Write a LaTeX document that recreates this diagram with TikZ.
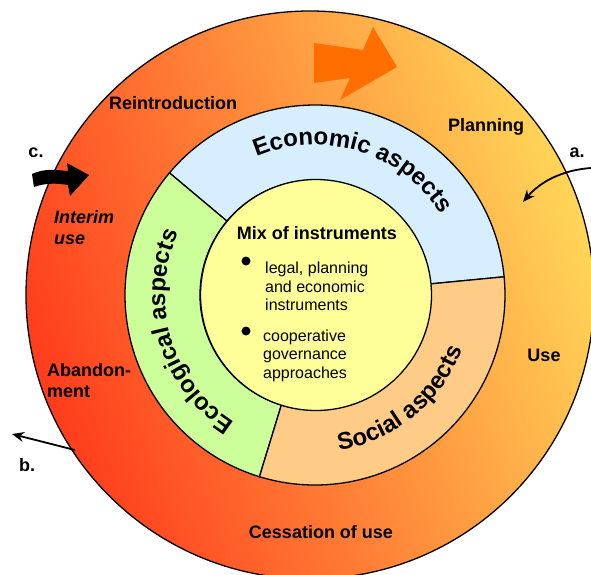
\documentclass[tikz,border=0pt]{standalone}
\usepackage{fontspec}
\setmainfont{Liberation Sans}
\usetikzlibrary{arrows.meta,decorations.text}
\definecolor{flame}{RGB}{255, 60, 28}
\definecolor{tangerine}{RGB}{255, 150, 60}
\definecolor{sunflower}{RGB}{255, 214, 88}
\definecolor{sky}{RGB}{214, 238, 253}
\definecolor{meadow}{RGB}{204, 255, 153}
\definecolor{apricot}{RGB}{255, 204, 136}
\definecolor{lemon}{RGB}{255, 255, 153}
\definecolor{carrot}{RGB}{255, 110, 0}
\newcommand\aspectfont{\fontsize{24}{24}\selectfont\bfseries}

\begin{document}
\begin{tikzpicture}[x=1pt, y=1pt,
    rim/.style={line width=1.3pt},
    lbl/.style={font=\fontsize{18}{21}\selectfont\bfseries, inner sep=0pt},
    body/.style={font=\fontsize{16}{18.5}\selectfont, align=left, anchor=west, inner sep=0pt},
    bulletdot/.style={circle, fill=black, minimum size=9pt, inner sep=0pt},
    pointer/.style={line width=1.8pt, -{Stealth[length=12pt, width=10pt, inset=4pt]}}]
            \useasboundingbox (0,0) rectangle (591,-574);
            \shadedraw[rim, left color=flame, middle color=tangerine, right color=sunflower, shading angle=110]
                                                    (310.0,-295.0) circle (284pt);
            \begin{scope}[shift={(315,-295)}]
            \filldraw[rim, fill=sky]    (5.5:115)  -- (5.5:190)  arc[start angle=5.5,  end angle=140,  radius=190pt]
                                        -- (140:115) arc[start angle=140,  end angle=5.5,  radius=115pt] -- cycle;
            \filldraw[rim, fill=meadow] (140:115)  -- (140:190)  arc[start angle=140,  end angle=253,  radius=190pt]
                                        -- (253:115) arc[start angle=253,  end angle=140,  radius=115pt] -- cycle;
            \filldraw[rim, fill=apricot](-107:115) -- (-107:190) arc[start angle=-107, end angle=5.5,  radius=190pt]
                                        -- (5.5:115) arc[start angle=5.5,  end angle=-107, radius=115pt] -- cycle;
            \path[decorate, decoration={text along path, text align=center, text={|\aspectfont|Economic aspects}}]
                  (140:150)  arc[start angle=140,  end angle=5.5, radius=150pt];
            \path[decorate, decoration={text along path, text align=center, text={|\aspectfont|Ecological aspects}}]
                  (253:150)  arc[start angle=253,  end angle=140, radius=150pt];
            \path[decorate, decoration={text along path, text align=center, text={|\aspectfont|Social aspects}}]
                  (-107:157) arc[start angle=-107, end angle=5.5, radius=157pt];
            \end{scope}
            \filldraw[rim, fill=lemon]              (316.0,-295.0) circle (115.5pt);
            \node[lbl] (mix) at (317,-233) {Mix of instruments};
            \node[bulletdot] (dotLegal) at (246,-261) {};
            \node[bulletdot] (dotCoop)  at (246,-331) {};
            \node[body] (legal) at (265,-286.5) {legal, planning\\and economic\\instruments};
            \node[body] (coop)  at (263,-355.5) {cooperative\\governance\\approaches};
            \fill[carrot] (314,-43) -- (363,-50) -- (373,-27) -- (397,-67) -- (340,-100) -- (350,-78) -- (314,-83) -- cycle;
            \fill[black]  (32,-174) .. controls (45,-168) and (56,-170) .. (68,-171) -- (67,-163) -- (89,-175)
                          -- (70,-196) -- (68,-185) .. controls (56,-183) and (45,-183) .. (34,-187) -- cycle;
            \node[lbl] (reintro)   at (173,-103) {Reintroduction};
            \node[lbl] (planning)  at (486,-127) {Planning};
            \node[lbl] (use)       at (544,-355) {Use};
            \node[lbl] (cessation) at (321,-532) {Cessation of use};
            \node[lbl, align=left, anchor=west] (abandon) at (47,-380.5) {Abandon-\\ment};
            \node[lbl, align=left, anchor=west, font=\fontsize{18}{21}\selectfont\bfseries\itshape] (interim) at (54,-227.5) {Interim\\use};
            \node[lbl] (labelA) at (577,-153) {a.};
            \node[lbl] (labelB) at (27,-465)  {b.};
            \node[lbl] (labelC) at (36,-153)  {c.};
            \coordinate (aFrom) at (591,-168);
            \coordinate (aTo)   at (523,-202);
            \coordinate (bFrom) at (75,-450);
            \coordinate (bTo)   at (12,-434);
            \draw[pointer] (aFrom) .. controls (562,-170) and (540,-182) .. (aTo);
            \draw[pointer] (bFrom) -- (bTo);
\end{tikzpicture}
\end{document}
